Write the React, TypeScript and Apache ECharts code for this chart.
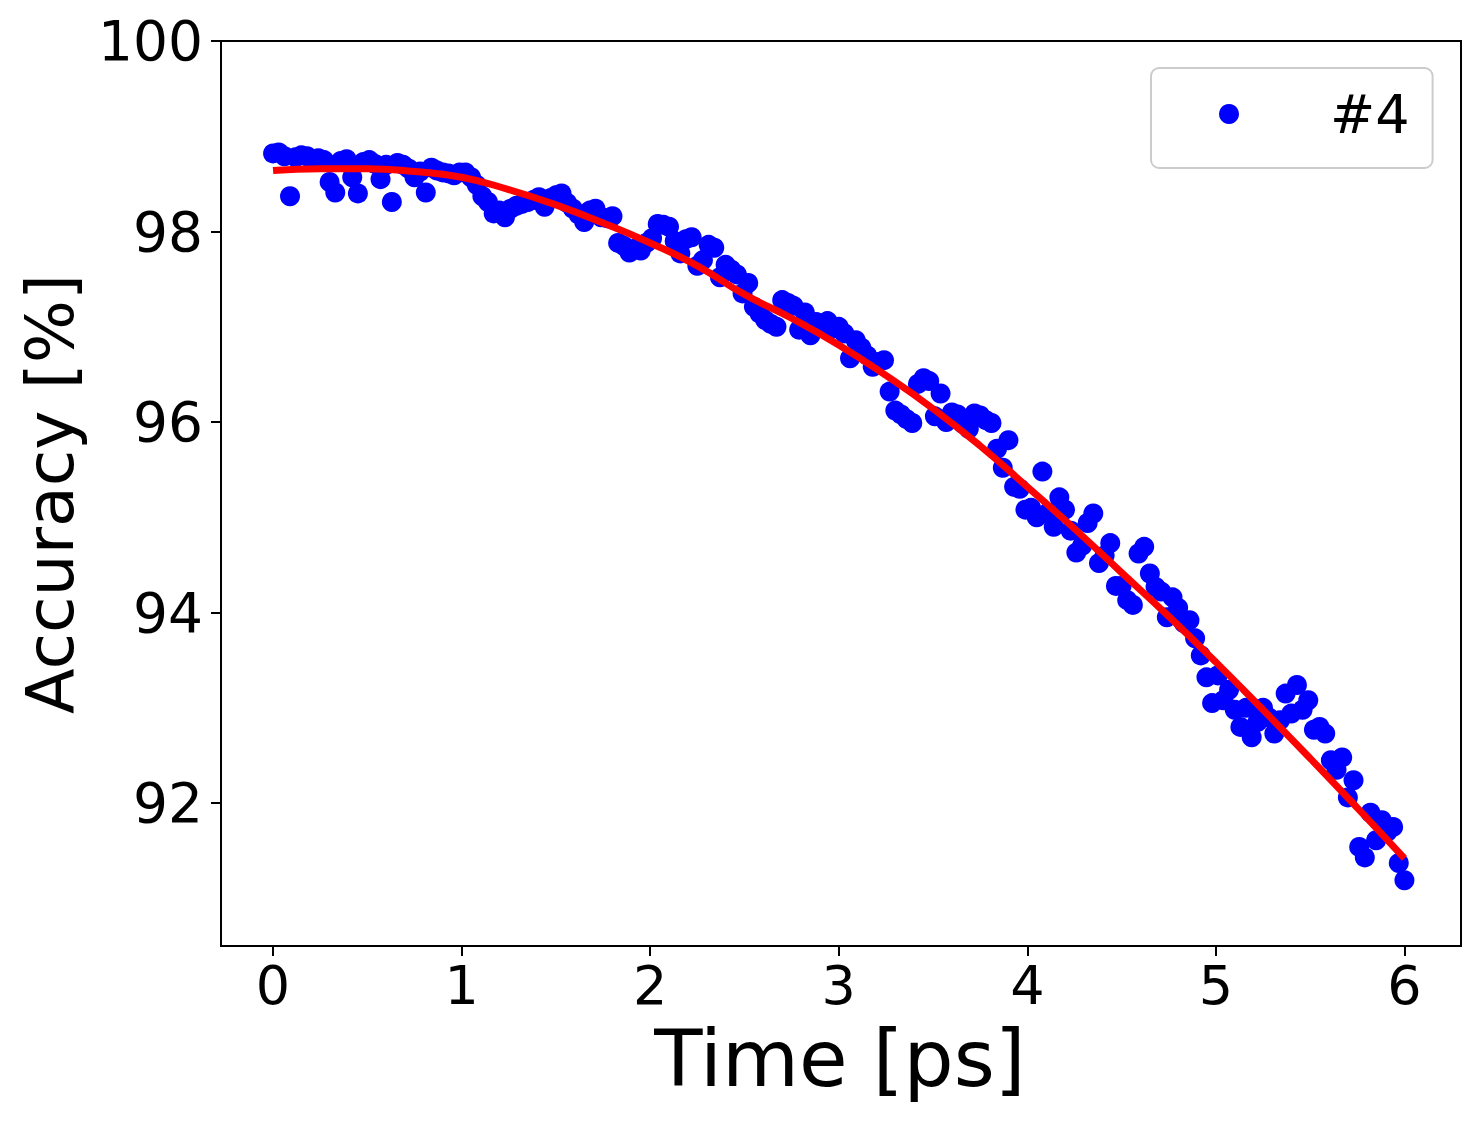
import React, { useEffect, useRef } from "react";
import * as echarts from "echarts";

// Measured accuracy of run #4, sampled every 0.03 ps from 0 to 6 ps
const SAMPLE_STEP_PS = 0.03;
const ACCURACY: number[] = [
  98.82, 98.83, 98.79, 98.37, 98.78, 98.80, 98.79, 98.74, 98.77, 98.75,
  98.52, 98.41, 98.74, 98.76, 98.57, 98.40, 98.73, 98.75, 98.71, 98.55,
  98.70, 98.31, 98.72, 98.70, 98.66, 98.57, 98.63, 98.41, 98.67, 98.64,
  98.62, 98.61, 98.59, 98.62, 98.62, 98.57, 98.49, 98.37, 98.31, 98.19,
  98.22, 98.15, 98.24, 98.27, 98.29, 98.31, 98.33, 98.36, 98.26, 98.35,
  98.38, 98.40, 98.30, 98.24, 98.18, 98.10, 98.22, 98.24, 98.15, 98.14,
  98.16, 97.88, 97.85, 97.78, 97.82, 97.80, 97.88, 97.93, 98.08, 98.07,
  98.05, 97.90, 97.77, 97.92, 97.94, 97.64, 97.70, 97.86, 97.83, 97.52,
  97.65, 97.60, 97.55, 97.35, 97.46, 97.21, 97.14, 97.07, 97.03, 97.00,
  97.28, 97.25, 97.22, 96.97, 97.15, 96.91, 97.05, 97.02, 97.06, 96.98,
  97.00, 96.93, 96.67, 96.86, 96.78, 96.70, 96.58, 96.63, 96.65, 96.32,
  96.12, 96.08, 96.03, 95.99, 96.40, 96.46, 96.43, 96.06, 96.30, 96.00,
  96.10, 96.08, 95.98, 95.93, 96.09, 96.07, 96.02, 95.99, 95.72, 95.52,
  95.81, 95.32, 95.30, 95.08, 95.10, 95.00, 95.48, 95.05, 94.90, 95.21,
  95.08, 94.86, 94.63, 94.70, 94.94, 95.04, 94.52, 94.60, 94.73, 94.28,
  94.28, 94.13, 94.08, 94.62, 94.69, 94.41, 94.27, 94.22, 93.95, 94.16,
  94.05, 93.89, 93.92, 93.73, 93.55, 93.32, 93.05, 93.34, 93.08, 93.19,
  92.98, 92.80, 93.00, 92.69, 92.85, 93.00, 92.90, 92.73, 92.87, 93.15,
  92.94, 93.24, 92.98, 93.08, 92.77, 92.80, 92.73, 92.45, 92.35, 92.48,
  92.06, 92.24, 91.54, 91.43, 91.90, 91.61, 91.82, 91.70, 91.75, 91.37, 91.19,
];

// Fitted curve (red line)
const FIT_TIME: number[] = [
  0, 0.25, 0.5, 0.75, 1.0, 1.25, 1.5, 1.75, 2.0, 2.25, 2.5, 2.75, 3.0,
  3.25, 3.5, 3.75, 4.0, 4.25, 4.5, 4.75, 5.0, 5.25, 5.5, 5.75, 6.0,
];
const FIT_VALUE: number[] = [
  98.64, 98.66, 98.66, 98.63, 98.57, 98.44, 98.28, 98.09, 97.88, 97.64,
  97.34, 97.09, 96.81, 96.49, 96.14, 95.75, 95.32, 94.88, 94.42, 93.96,
  93.48, 92.98, 92.47, 91.95, 91.42,
];

const X_TICKS = [0, 1, 2, 3, 4, 5, 6];
const Y_TICKS = [92, 94, 96, 98, 100];
const SERIES_NAME = "#4";
const X_TITLE = "Time [ps]";
const Y_TITLE = "Accuracy [%]";

const FONT = "DejaVu Sans";

export default function App() {
  const ref = useRef<HTMLDivElement>(null);

  useEffect(() => {
    if (!ref.current) return;
    const chart = echarts.init(ref.current, undefined, { renderer: "svg" });
    const scatterData = ACCURACY.map((v, i) => [
      +(i * SAMPLE_STEP_PS).toFixed(2),
      v,
    ]);
    const fitData = FIT_TIME.map((t, i) => [t, FIT_VALUE[i]]);

    chart.setOption({
      animation: false,
      backgroundColor: "#ffffff",
      grid: {
        left: 221,
        top: 41,
        width: 1240,
        height: 905,
        show: true,
        borderColor: "#000000",
        borderWidth: 2,
        backgroundColor: "transparent",
        containLabel: false,
      },
      xAxis: {
        type: "value",
        min: -0.276,
        max: 6.3,
        splitLine: { show: false },
        axisLine: {
          show: true,
          onZero: false,
          lineStyle: { color: "#000", width: 2 },
        },
        axisTick: {
          show: true,
          length: 10,
          customValues: X_TICKS,
          lineStyle: { color: "#000", width: 2 },
        },
        axisLabel: {
          customValues: X_TICKS,
          fontSize: 54,
          fontFamily: FONT,
          color: "#000",
          margin: 12,
        },
      },
      yAxis: {
        type: "value",
        min: 90.5,
        max: 100,
        splitLine: { show: false },
        axisLine: {
          show: true,
          onZero: false,
          lineStyle: { color: "#000", width: 2 },
        },
        axisTick: {
          show: true,
          length: 10,
          customValues: Y_TICKS,
          lineStyle: { color: "#000", width: 2 },
        },
        axisLabel: {
          customValues: Y_TICKS,
          fontSize: 55,
          fontFamily: FONT,
          color: "#000",
          margin: 18,
        },
      },
      legend: {
        data: [{ name: SERIES_NAME, icon: "circle" }],
        left: 1151,
        top: 68,
        orient: "horizontal",
        itemWidth: 116,
        itemHeight: 20,
        padding: [19, 23, 27, 68],
        borderColor: "#cccccc",
        borderWidth: 2,
        borderRadius: 8,
        backgroundColor: "#ffffff",
        selectedMode: false,
        formatter: "{a|{name}}",
        textStyle: {
          fontFamily: FONT,
          fontSize: 54,
          color: "#000",
          rich: {
            a: {
              fontFamily: FONT,
              fontSize: 54,
              lineHeight: 60,
              color: "#000",
              padding: [0, 0, 0, 38],
            },
          },
        },
      },
      graphic: [
        {
          type: "text",
          x: 840,
          y: 1059,
          style: {
            text: X_TITLE,
            fontFamily: FONT,
            fontSize: 79,
            fill: "#000",
            align: "center",
            verticalAlign: "middle",
          },
        },
        {
          type: "text",
          x: 50,
          y: 494,
          rotation: Math.PI / 2,
          style: {
            text: Y_TITLE,
            fontFamily: FONT,
            fontSize: 66.5,
            fill: "#000",
            align: "center",
            verticalAlign: "middle",
          },
        },
      ],
      series: [
        {
          name: SERIES_NAME,
          type: "scatter",
          data: scatterData,
          symbol: "circle",
          symbolSize: 20,
          itemStyle: { color: "#0000ff", opacity: 1 },
          z: 2,
        },
        {
          name: "fit",
          type: "line",
          data: fitData,
          smooth: true,
          showSymbol: false,
          symbol: "none",
          lineStyle: { color: "#ff0000", width: 7 },
          z: 3,
        },
      ],
    });
    return () => chart.dispose();
  }, []);

  return (
    <div
      ref={ref}
      style={{
        position: "fixed",
        left: 0,
        top: 0,
        width: 1481,
        height: 1121,
        background: "#ffffff",
      }}
    />
  );
}
